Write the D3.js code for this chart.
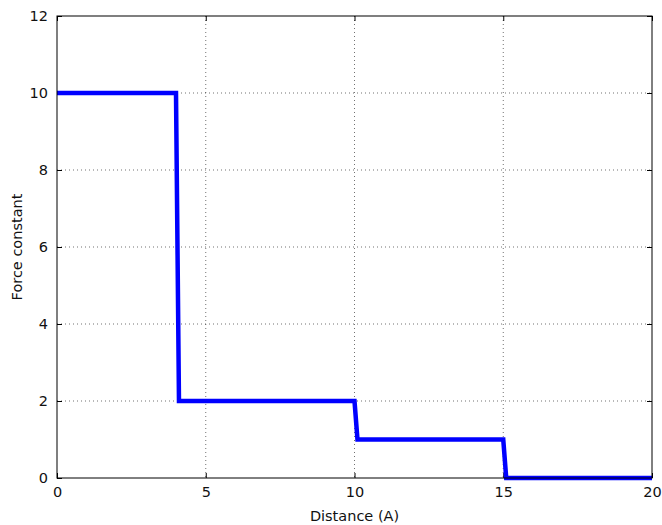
<!DOCTYPE html>
<html>
<head>
<meta charset="utf-8">
<script src="https://cdn.jsdelivr.net/npm/d3@7"></script>
<style>
  body { margin: 0; background: #fff; }
  text { font-family: "DejaVu Sans", sans-serif; }
</style>
</head>
<body>
<div id="chart"></div>
<script>
// step profile, sampled every 0.1 A
var distance = [0, 4.0, 4.1, 10.0, 10.1, 15.0, 15.1, 20];
var force = [10, 10, 2, 2, 1, 1, 0, 0];
var xTicks = [0, 5, 10, 15, 20];
var yTicks = [0, 2, 4, 6, 8, 10, 12];

var margin = { top: 16, right: 10, bottom: 47, left: 57 };
var width = 662, height = 525;
var w = width - margin.left - margin.right;
var h = height - margin.top - margin.bottom;

var svg = d3.select("#chart").append("svg")
  .attr("width", width)
  .attr("height", height);

var g = svg.append("g")
  .attr("transform", "translate(" + margin.left + "," + margin.top + ")");

var x = d3.scaleLinear().domain([0, 20]).range([0, w]);
var y = d3.scaleLinear().domain([0, 12]).range([h, 0]);

// grid
g.append("g").selectAll("line")
  .data(xTicks.slice(1, -1)).enter().append("line")
  .attr("x1", d => x(d)).attr("x2", d => x(d))
  .attr("y1", 0).attr("y2", h)
  .attr("stroke", "#000").attr("stroke-width", 0.8)
  .attr("stroke-opacity", 0.7)
  .attr("stroke-dasharray", "1,3");
g.append("g").selectAll("line")
  .data(yTicks.slice(1, -1)).enter().append("line")
  .attr("y1", d => y(d)).attr("y2", d => y(d))
  .attr("x1", 0).attr("x2", w)
  .attr("stroke", "#000").attr("stroke-width", 0.8)
  .attr("stroke-opacity", 0.7)
  .attr("stroke-dasharray", "1,3");

// axes, ticks pointing inward
var xAxis = g.append("g").attr("transform", "translate(0," + h + ")")
  .call(d3.axisBottom(x).tickValues(xTicks).tickSizeInner(-5).tickSizeOuter(0).tickPadding(9));
var xTop = g.append("g")
  .call(d3.axisTop(x).tickValues(xTicks).tickSizeInner(-5).tickSizeOuter(0).tickFormat(""));
var yAxis = g.append("g")
  .call(d3.axisLeft(y).tickValues(yTicks).tickSizeInner(-5).tickSizeOuter(0).tickPadding(9));
var yRight = g.append("g").attr("transform", "translate(" + w + ",0)")
  .call(d3.axisRight(y).tickValues(yTicks).tickSizeInner(-5).tickSizeOuter(0).tickFormat(""));

[xAxis, xTop, yAxis, yRight].forEach(function(a) {
  a.selectAll(".domain").remove();
  a.selectAll("text").attr("font-size", 14.5).attr("fill", "#111")
    .style("font-family", "DejaVu Sans, sans-serif");
});

// the line
var line = d3.line().x((d, i) => x(distance[i])).y(d => y(d));
g.append("path")
  .datum(force)
  .attr("fill", "none")
  .attr("stroke", "#0000ff")
  .attr("stroke-width", 4.5)
  .attr("d", line);

// frame
g.append("rect")
  .attr("width", w).attr("height", h)
  .attr("fill", "none").attr("stroke", "#000").attr("stroke-width", 1);

// labels
svg.append("text")
  .attr("x", margin.left + w / 2).attr("y", height - 4)
  .attr("text-anchor", "middle").attr("font-size", 14.5).attr("fill", "#111")
  .text("Distance (A)");
svg.append("text")
  .attr("transform", "translate(22," + (margin.top + h / 2) + ") rotate(-90)")
  .attr("text-anchor", "middle").attr("font-size", 14.5).attr("fill", "#111")
  .text("Force constant");
</script>
</body>
</html>
